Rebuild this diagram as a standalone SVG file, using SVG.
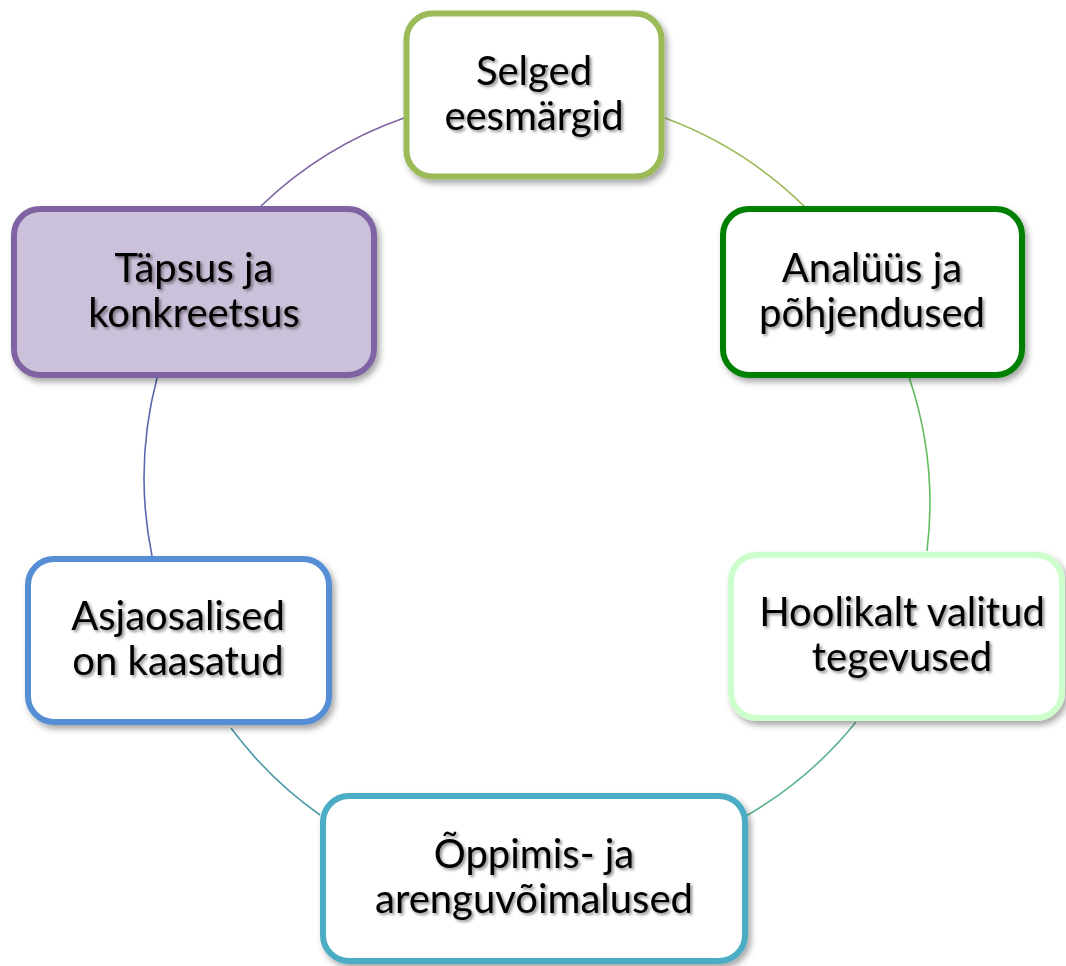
<svg xmlns="http://www.w3.org/2000/svg" width="1066" height="966" viewBox="0 0 1066 966">
<style>
.box{stroke-width:6;filter:url(#bs)}
.lbl{font-family:Lato,"Liberation Sans",sans-serif;font-size:40px;fill:#000;text-anchor:middle;filter:url(#ts)}
.con{fill:none;stroke-width:1.6}
</style>
<defs>
<filter id="bs" x="-10%" y="-10%" width="125%" height="130%">
<feDropShadow dx="3" dy="4" stdDeviation="3" flood-color="#000" flood-opacity="0.35"/>
</filter>
<filter id="ts" x="-10%" y="-20%" width="125%" height="150%">
<feDropShadow dx="2" dy="2" stdDeviation="1.6" flood-color="#000" flood-opacity="0.45"/>
</filter>
</defs>
<rect width="1066" height="966" fill="#fff"/>
<g id="connectors">
<path class="con" stroke="#9BBB59" d="M665,118 A393,393 0 0 1 805,207"/>
<path class="con" stroke="#62BC62" d="M909,377 A393,393 0 0 1 927,551"/>
<path class="con" stroke="#5DB38C" d="M856,722 A393,393 0 0 1 746,816"/>
<path class="con" stroke="#4C9AA8" d="M320,815 A393,393 0 0 1 231,728"/>
<path class="con" stroke="#5A68B0" d="M152,556 A393,393 0 0 1 157,378"/>
<path class="con" stroke="#8064A2" d="M261,206 A393,393 0 0 1 404,118"/>
</g>
<g id="n1">
<rect class="box" x="406.5" y="13.5" width="255" height="163" rx="26" fill="#fff" stroke="#9BBB59"/>
<text class="lbl" x="534" y="85">Selged</text>
<text class="lbl" x="534" y="130">eesmärgid</text>
</g>
<g id="n2">
<rect class="box" x="723" y="209" width="299" height="166" rx="26" fill="#fff" stroke="#008000"/>
<text class="lbl" x="872" y="282">Analüüs ja</text>
<text class="lbl" x="872" y="327">põhjendused</text>
</g>
<g id="n3">
<rect class="box" x="731" y="555" width="331" height="163" rx="26" fill="#fff" stroke="#CCFFCC"/>
<text class="lbl" x="902" y="626">Hoolikalt valitud</text>
<text class="lbl" x="902" y="671">tegevused</text>
</g>
<g id="n4">
<rect class="box" x="323" y="796" width="422" height="165" rx="26" fill="#fff" stroke="#4BACC6"/>
<text class="lbl" x="534" y="868">Õppimis- ja</text>
<text class="lbl" x="534" y="913">arenguvõimalused</text>
</g>
<g id="n5">
<rect class="box" x="28" y="559" width="301" height="163" rx="26" fill="#fff" stroke="#558ED5"/>
<text class="lbl" x="178" y="630">Asjaosalised</text>
<text class="lbl" x="178" y="675">on kaasatud</text>
</g>
<g id="n6">
<rect class="box" x="14" y="209" width="360" height="166" rx="26" fill="#CCC1DA" stroke="#8064A2"/>
<text class="lbl" x="194" y="282">Täpsus ja</text>
<text class="lbl" x="194" y="327">konkreetsus</text>
</g>
</svg>
